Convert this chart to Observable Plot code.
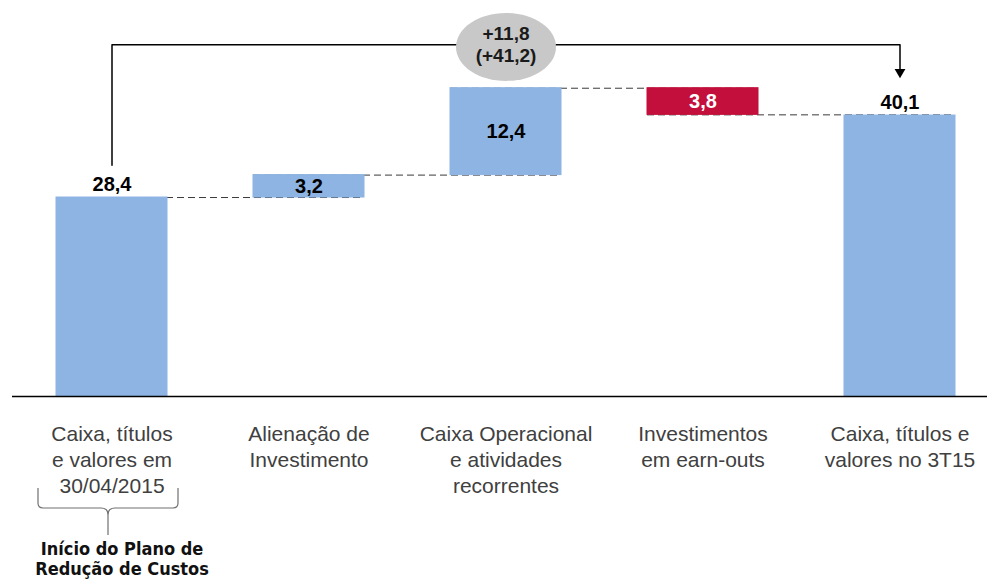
<!DOCTYPE html>
<html>
<head>
<meta charset="utf-8">
<script src="https://cdn.jsdelivr.net/npm/d3@7"></script>
<script src="https://cdn.jsdelivr.net/npm/@observablehq/plot@0.6"></script>
<style>
  html, body { margin: 0; padding: 0; background: #ffffff; }
  #chart svg { display: block; }
</style>
</head>
<body>
<div id="chart"></div>
<script>
// ---- data ----
const categories = ["inicio", "alienacao", "operacional", "earnouts", "final"];
const tickLabels = [
  "Caixa, títulos\ne valores em\n30/04/2015",
  "Alienação de\nInvestimento",
  "Caixa Operacional\ne atividades\nrecorrentes",
  "Investimentos\nem earn-outs",
  "Caixa, títulos e\nvalores no 3T15"
];
const values = [28.4, 3.2, 12.4, -3.8, 40.1];
const kinds = ["total", "delta", "delta", "delta", "total"];
const periodChange = 11.8;       // +11,8
const cumulativeChange = 41.2;   // (+41,2)
const braceNote = "Início do Plano de\nRedução de Custos";

// annotation levels (in value units)
const bracketStart = 33.0;
const bracketLevel = 50.2;
const ellipseLevel = 49.9;
const arrowLevel = 46.3;

const colors = { up: "#8DB4E2", down: "#C30F3C" };

// ---- derived ----
const fmt = v => Math.abs(v).toFixed(1).replace(".", ",");
const fmtSigned = v => (v >= 0 ? "+" : "-") + fmt(v);
let run = 0;
const bars = categories.map((c, i) => {
  const v = values[i];
  let start, end;
  if (kinds[i] === "total") { start = 0; end = v; }
  else { start = run; end = run + v; }
  run = end;
  return { cat: c, kind: kinds[i], value: v, start, end, color: v < 0 ? colors.down : colors.up };
});
const connectors = bars.slice(0, -1).map((b, i) => ({ from: b.cat, to: bars[i + 1].cat, level: b.end }));
const totals = bars.filter(b => b.kind === "total");
const deltas = bars.filter(b => b.kind === "delta");

const bracket = [
  { x: categories[0], y: bracketStart },
  { x: categories[0], y: bracketLevel },
  { x: categories[4], y: bracketLevel },
  { x: categories[4], y: arrowLevel }
];

// ellipse symbol
const ellipseSymbol = {
  draw(ctx) {
    const rx = 50, ry = 34, k = 0.5523;
    ctx.moveTo(-rx, 0);
    ctx.bezierCurveTo(-rx, -ry * k, -rx * k, -ry, 0, -ry);
    ctx.bezierCurveTo(rx * k, -ry, rx, -ry * k, rx, 0);
    ctx.bezierCurveTo(rx, ry * k, rx * k, ry, 0, ry);
    ctx.bezierCurveTo(-rx * k, ry, -rx, ry * k, -rx, 0);
    ctx.closePath();
  }
};

// brace under first category label
function braceMark(index, scales) {
  const x = scales.x, y = scales.y;
  const bw = x.bandwidth ? x.bandwidth() : 0;
  const cx = x(categories[0]) + bw / 2 - 3.5;
  const y0 = y(0);
  const w = 70, top = y0 + 92, mid = y0 + 112, tip = y0 + 139;
  const p = d3.path();
  p.moveTo(cx - w, top);
  p.lineTo(cx - w, mid - 5);
  p.quadraticCurveTo(cx - w, mid, cx - w + 5, mid);
  p.lineTo(cx - 7, mid);
  p.quadraticCurveTo(cx, mid, cx, mid + 7);
  p.lineTo(cx, tip);
  p.moveTo(cx + w, top);
  p.lineTo(cx + w, mid - 5);
  p.quadraticCurveTo(cx + w, mid, cx + w - 5, mid);
  p.lineTo(cx + 7, mid);
  p.quadraticCurveTo(cx, mid, cx, mid + 7);
  return d3.create("svg:path")
    .attr("d", p.toString())
    .attr("fill", "none")
    .attr("stroke", "#707070")
    .attr("stroke-width", 1.2)
    .node();
}

const chart = Plot.plot({
  width: 987,
  height: 580,
  marginTop: 0,
  marginBottom: 184,
  marginLeft: 12,
  marginRight: 0,
  style: { fontFamily: "'Liberation Sans', Arial, sans-serif", background: "#ffffff", overflow: "visible" },
  x: { domain: categories, paddingInner: 0.438, paddingOuter: 0.1873, align: 0.581, axis: null },
  y: { domain: [0, 56.52], axis: null },
  marks: [
    Plot.ruleY(connectors, { x1: "from", x2: "to", y: "level", stroke: "#3a3a3a", strokeWidth: 1, strokeDasharray: "7,4" }),
    Plot.barY(bars, { x: "cat", y1: "start", y2: "end", fill: "color", stroke: "color", strokeWidth: 1 }),
    Plot.ruleY([0], { stroke: "#000000", strokeWidth: 1.5 }),
    Plot.axisX({
      tickSize: 0, tickPadding: 26, fontSize: 21, lineHeight: 1.24, fill: "#404040", label: null,
      tickFormat: d => tickLabels[categories.indexOf(d)]
    }),
    Plot.text(totals, { x: "cat", y: "end", text: d => fmt(d.value), dy: -13, fontSize: 20, fontWeight: "bold", fill: "#000000" }),
    Plot.text(deltas, { x: "cat", y: d => (d.start + d.end) / 2, text: d => fmt(d.value), fontSize: 20, fontWeight: "bold",
      fill: d => d.value < 0 ? "#ffffff" : "#000000" }),
    Plot.line(bracket, { x: "x", y: "y", stroke: "#000000", strokeWidth: 1.5 }),
    Plot.dot([{ x: categories[4], y: arrowLevel }], { x: "x", y: "y", symbol: "triangle", rotate: 180, r: 4, fill: "#000000", stroke: "none" }),
    Plot.dot([{ x: categories[2], y: ellipseLevel }], { x: "x", y: "y", symbol: ellipseSymbol, r: 10, fill: "#C8C8C8", stroke: "none" }),
    Plot.text([{ x: categories[2], y: ellipseLevel }], { x: "x", y: "y",
      text: () => fmtSigned(periodChange) + "\n(" + fmtSigned(cumulativeChange) + ")",
      dy: -3, fontSize: 19, fontWeight: "bold", lineHeight: 1.15, fill: "#1a1a1a" }),
    braceMark,
    Plot.text([{ x: categories[0] }], { x: "x", frameAnchor: "bottom", text: () => braceNote,
      lineAnchor: "top", dy: 144, dx: 10, fontSize: 18, lineHeight: 1.11, fontWeight: "bold",
      fontFamily: "'DejaVu Sans Condensed', 'DejaVu Sans', sans-serif", fill: "#111111" })
  ]
});
document.getElementById("chart").appendChild(chart);
</script>
</body>
</html>
